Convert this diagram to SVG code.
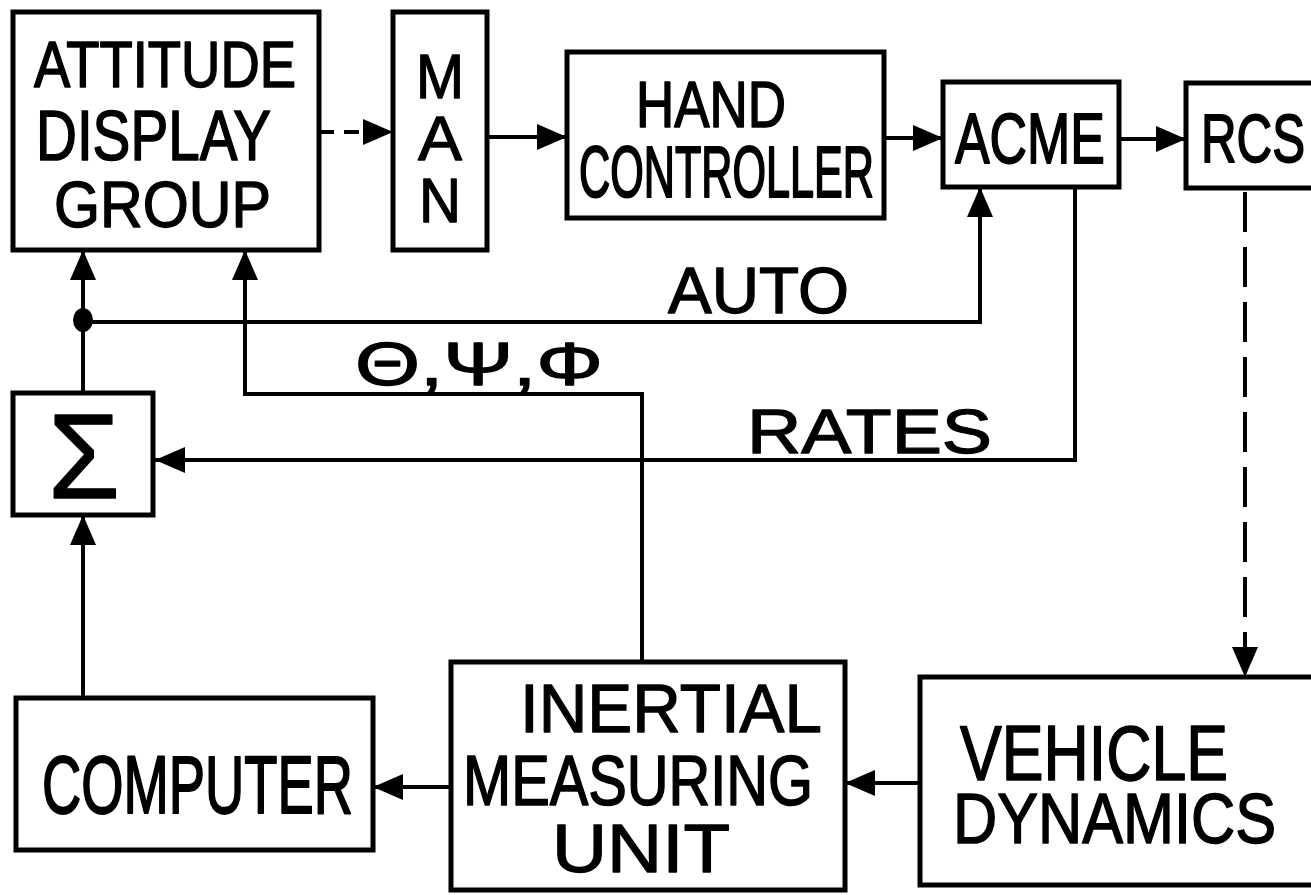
<svg xmlns="http://www.w3.org/2000/svg" width="1311" height="895" viewBox="0 0 1311 895">
<defs>
<style>
.box{fill:#fff;stroke:#000;stroke-width:5}
.ln{fill:none;stroke:#000;stroke-width:4}
.dash{stroke-dasharray:15 10}
.dash2{stroke-dasharray:40 15}
text{font-family:"Liberation Sans",Arial,sans-serif;fill:#000;stroke:#000;stroke-width:1.3;stroke-linejoin:round}
</style>
<marker id="ah" markerUnits="userSpaceOnUse" markerWidth="32" markerHeight="26" refX="30" refY="13" orient="auto" viewBox="0 0 32 26">
<path d="M0,0 L30,13 L0,26 Z" fill="#000"/>
</marker>
</defs>
<rect width="1311" height="895" fill="#fff"/>
<g id="connectors">
<line class="ln dash" x1="319" y1="132" x2="393" y2="132" marker-end="url(#ah)"/>
<line class="ln" x1="487" y1="137" x2="567" y2="137" marker-end="url(#ah)"/>
<line class="ln" x1="884" y1="138" x2="943" y2="138" marker-end="url(#ah)"/>
<line class="ln" x1="1119" y1="139" x2="1186" y2="139" marker-end="url(#ah)"/>
<line class="ln" x1="83" y1="393" x2="83" y2="250" marker-end="url(#ah)"/>
<ellipse cx="83" cy="320" rx="10" ry="12" fill="#000"/>
<path class="ln" d="M83,322 H980 V187" marker-end="url(#ah)"/>
<path class="ln" d="M642,662 V394 H245 V250" marker-end="url(#ah)"/>
<path class="ln" d="M1075,187 V460 H155" marker-end="url(#ah)"/>
<line class="ln" x1="83" y1="698" x2="83" y2="515" marker-end="url(#ah)"/>
<line class="ln" x1="451" y1="787" x2="373" y2="787" marker-end="url(#ah)"/>
<line class="ln" x1="920" y1="783" x2="845" y2="783" marker-end="url(#ah)"/>
<line class="ln dash2" x1="1245" y1="192" x2="1245" y2="677" marker-end="url(#ah)"/>
<text x="668" y="313" font-size="64" textLength="181" lengthAdjust="spacingAndGlyphs">AUTO</text>
<text x="355" y="385" font-size="62" textLength="248" lengthAdjust="spacingAndGlyphs">Θ,Ψ,Φ</text>
<text x="747" y="453" font-size="63" textLength="245" lengthAdjust="spacingAndGlyphs">RATES</text>
</g>
<g id="attitude-display-group">
<rect class="box" x="13" y="12" width="306" height="238"/>
<text x="34" y="87" font-size="53.6" textLength="262" lengthAdjust="spacingAndGlyphs" transform="translate(0,-17.4) scale(1,1.2)">ATTITUDE</text>
<text x="36" y="160" font-size="55.6" textLength="235" lengthAdjust="spacingAndGlyphs" transform="translate(0,-40.8) scale(1,1.255)">DISPLAY</text>
<text x="54" y="227" font-size="59.2" textLength="217" lengthAdjust="spacingAndGlyphs" transform="translate(0,-24.97) scale(1,1.11)">GROUP</text>
</g>
<g id="man">
<rect class="box" x="393" y="12" width="94" height="238"/>
<text x="416" y="98" font-size="63" textLength="48" lengthAdjust="spacingAndGlyphs">M</text>
<text x="418" y="160" font-size="63" textLength="44" lengthAdjust="spacingAndGlyphs">A</text>
<text x="419" y="222" font-size="63" textLength="42" lengthAdjust="spacingAndGlyphs">N</text>
</g>
<g id="hand-controller">
<rect class="box" x="567" y="52" width="317" height="166"/>
<text x="636" y="127" font-size="53" textLength="150" lengthAdjust="spacingAndGlyphs" transform="translate(0,-30.48) scale(1,1.24)">HAND</text>
<text x="579" y="197" font-size="43.2" textLength="295" lengthAdjust="spacingAndGlyphs" transform="translate(0,-133.96) scale(1,1.68)">CONTROLLER</text>
</g>
<g id="acme">
<rect class="box" x="943" y="82" width="176" height="105"/>
<text x="955" y="163" font-size="51.9" textLength="150" lengthAdjust="spacingAndGlyphs" transform="translate(0,-60.31) scale(1,1.37)">ACME</text>
</g>
<g id="rcs">
<rect class="box" x="1186" y="83" width="140" height="105"/>
<text x="1201" y="162" font-size="49.3" textLength="104" lengthAdjust="spacingAndGlyphs" transform="translate(0,-63.18) scale(1,1.39)">RCS</text>
</g>
<g id="sum">
<rect class="box" x="13" y="393" width="140" height="122"/>
<text x="48" y="498" font-size="120" textLength="72" lengthAdjust="spacingAndGlyphs">Σ</text>
</g>
<g id="computer">
<rect class="box" x="16" y="698" width="357" height="152"/>
<text x="42" y="813" font-size="54.4" textLength="311" lengthAdjust="spacingAndGlyphs" transform="translate(0,-398.37) scale(1,1.49)">COMPUTER</text>
</g>
<g id="inertial-measuring-unit">
<rect class="box" x="451" y="662" width="394" height="228"/>
<text x="520" y="732" font-size="68" textLength="302" lengthAdjust="spacingAndGlyphs">INERTIAL</text>
<text x="463" y="805" font-size="57.8" textLength="350" lengthAdjust="spacingAndGlyphs" transform="translate(0,-169.05) scale(1,1.21)">MEASURING</text>
<text x="552" y="872" font-size="68" textLength="178" lengthAdjust="spacingAndGlyphs">UNIT</text>
</g>
<g id="vehicle-dynamics">
<rect class="box" x="920" y="677" width="400" height="208"/>
<text x="960" y="780" font-size="62.6" textLength="268" lengthAdjust="spacingAndGlyphs" transform="translate(0,-179.4) scale(1,1.23)">VEHICLE</text>
<text x="953" y="843" font-size="61.2" textLength="323" lengthAdjust="spacingAndGlyphs" transform="translate(0,-134.88) scale(1,1.16)">DYNAMICS</text>
</g>
</svg>
